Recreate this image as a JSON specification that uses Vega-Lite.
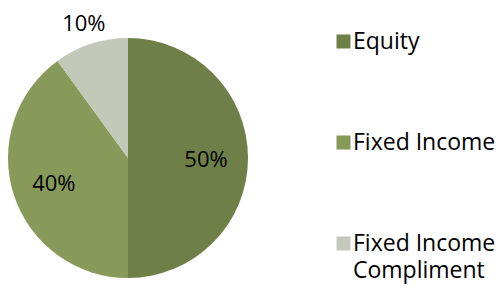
{
  "$schema": "https://vega.github.io/schema/vega-lite/v6.json",
  "width": 240,
  "height": 240,
  "autosize": {"type": "none"},
  "padding": {"left": 8, "top": 38, "right": 252, "bottom": 14},
  "background": "white",
  "data": {
    "values": [
      {"category": "Equity", "value": 50, "label": "50%"},
      {"category": "Fixed Income", "value": 40, "label": "40%"},
      {"category": "Fixed Income Compliment", "value": 10, "label": "10%"}
    ]
  },
  "encoding": {
    "theta": {"field": "value", "type": "quantitative", "stack": true},
    "order": {"field": "category", "sort": "ascending"}
  },
  "layer": [
    {
      "mark": {"type": "arc"},
      "encoding": {
        "color": {
          "field": "category",
          "type": "nominal",
          "scale": {
            "domain": ["Equity", "Fixed Income", "Fixed Income Compliment"],
            "range": ["#6E7F47", "#879A5A", "#C4C8B8"]
          },
          "legend": {
            "orient": "none",
            "legendX": 324,
            "legendY": -8,
            "title": null,
            "symbolType": "square",
            "symbolSize": 196,
            "symbolStrokeWidth": 0,
            "symbolOpacity": 1,
            "labelFontSize": 23,
            "labelFont": "Open Sans",
            "labelColor": "#000000",
            "rowPadding": 77,
            "labelOffset": -2,
            "labelLimit": 300,
            "labelExpr": "datum.label == 'Fixed Income Compliment' ? ['Fixed Income','Compliment'] : datum.label",
            "encode": {"labels": {"update": {"lineHeight": {"value": 27}}}}
          }
        }
      }
    },
    {
      "mark": {
        "type": "text",
        "radius": {"expr": "datum.value < 20 ? 143 : 78"},
        "fontSize": 22,
        "font": "Open Sans",
        "dy": 2
      },
      "encoding": {
        "text": {"field": "label"},
        "color": {"value": "#000000"}
      }
    }
  ],
  "config": {"view": {"stroke": null}}
}
